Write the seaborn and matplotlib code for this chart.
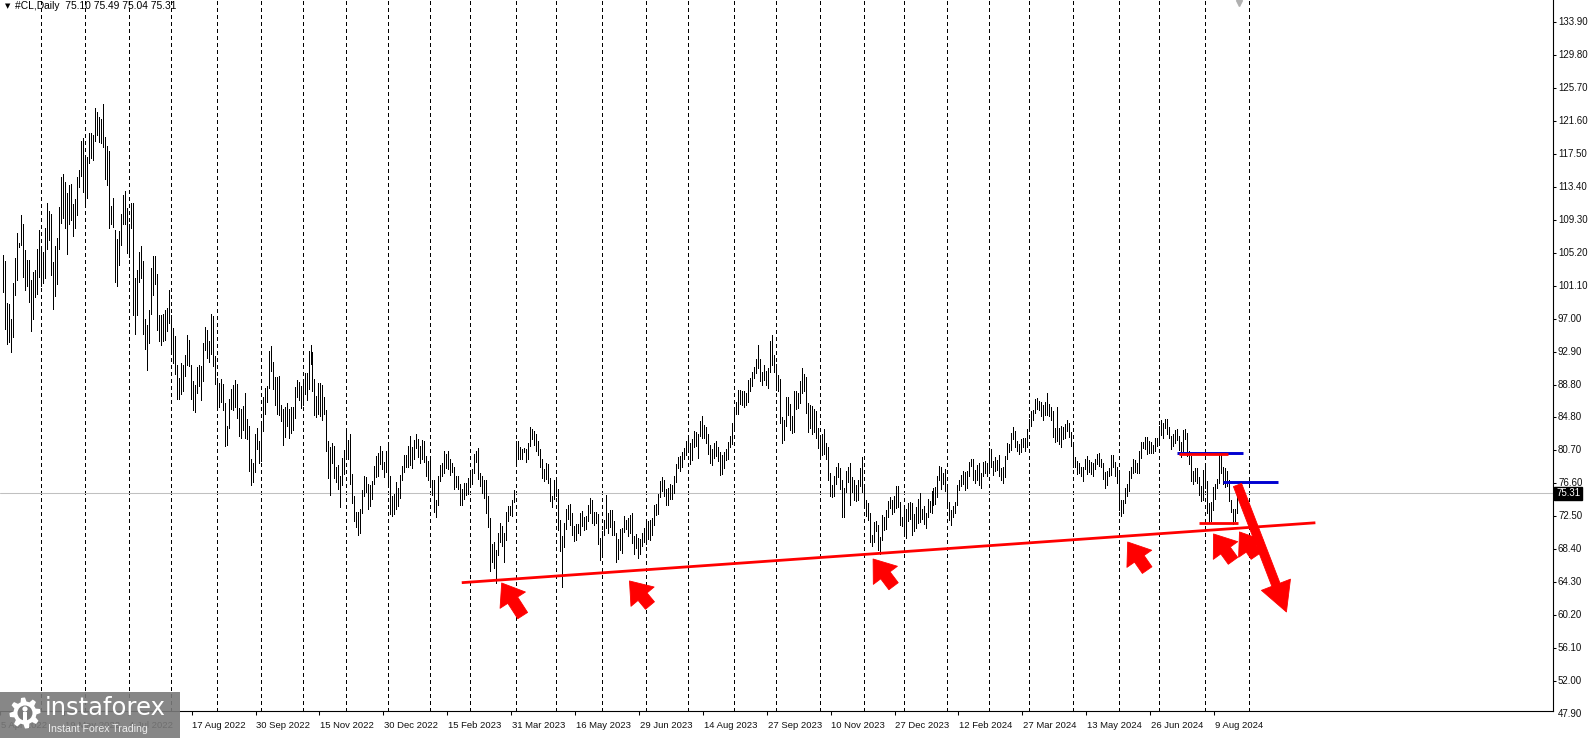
import numpy as np
import pandas as pd
import matplotlib
matplotlib.use("Agg")
import matplotlib.pyplot as plt
import seaborn as sns
from matplotlib.patches import Rectangle, Polygon, Circle
from matplotlib.transforms import IdentityTransform

# ------------------------------------------------------------------ data
first_session = "2022-04-05"
closed_sessions = ["2022-12-26", "2023-01-02", "2023-12-25", "2024-01-01", "2024-03-29"]

high_2022 = [
    104.9, 104.1, 98.9, 98.8, 97.0, 101.4, 104.5, 107.6, 106.4, 109.9, 108.8, 105.5, 104.3, 104.3, 101.8, 102.8, 103.0, 105.7, 108.0,
    105.6, 105.3, 108.3, 111.4, 110.3, 110.0, 104.0, 106.0, 107.0, 110.9, 114.6, 115.0, 114.0, 112.6, 113.6, 113.7, 111.2, 111.8, 114.6, 115.4, 119.0, 119.4,
    117.0, 117.1, 120.0, 120.0, 119.8, 123.2, 122.7, 122.0, 121.8, 123.7, 119.6, 118.4, 117.8, 111.0, 112.0, 108.0, 106.9, 107.9, 110.0, 112.3, 112.8, 110.7,
    108.8, 111.3, 111.4, 102.0, 103.0, 105.3, 106.0, 104.2, 97.0, 96.2, 98.1, 103.3, 104.8, 104.8, 102.5, 97.4, 97.4, 97.6, 98.0, 98.3, 100.5,
    97.5, 95.8, 94.8, 91.2, 89.6, 91.5, 91.2, 92.5, 94.9, 94.3, 91.2, 89.3, 88.8, 91.0, 91.2, 91.1, 94.0, 95.9, 95.6, 94.2, 97.6, 97.3, 92.3,
    89.6, 89.0, 89.5, 88.9, 86.5, 83.7, 87.0, 88.2, 88.7, 89.4, 88.9, 85.9, 85.8, 86.1, 87.8, 84.5, 83.6, 79.5, 79.1, 82.6, 83.4, 81.8,
    84.0, 87.2, 88.4, 88.6, 93.0, 93.6, 91.6, 89.8, 89.7, 89.9, 86.3, 85.8, 86.0, 86.5, 85.8, 86.0, 86.0, 88.5, 89.4, 89.1, 88.6,
    89.0, 90.2, 90.2, 93.0, 93.7, 92.8, 89.5, 87.4, 89.0, 89.0, 88.7, 87.2, 85.7, 81.8, 81.0, 81.6, 81.2, 78.6, 78.8, 77.4, 79.7, 80.7,
    83.3, 81.9, 82.6, 77.7, 75.0, 73.0, 73.0, 73.3, 75.7, 77.4, 77.3, 76.5, 76.3, 76.8, 78.7, 79.9, 80.3, 81.2, 80.6, 79.2, 80.5,
]
low_2022 = [
    100.3, 95.7, 93.8, 94.1, 92.9, 94.7, 99.9, 101.8, 105.9, 106.1, 102.2, 100.5, 101.0, 99.1, 95.4, 97.0, 99.7, 100.1, 102.2,
    101.0, 101.4, 102.0, 105.6, 106.8, 102.4, 98.2, 99.8, 101.3, 105.6, 108.9, 109.5, 108.3, 105.0, 108.8, 109.2, 107.2, 108.3, 109.9, 113.3, 114.7, 112.7,
    111.2, 112.0, 116.3, 117.0, 116.7, 119.0, 119.8, 118.9, 118.8, 118.3, 114.3, 113.6, 108.3, 108.8, 108.4, 101.5, 101.1, 103.6, 106.1, 108.7, 108.7, 105.2,
    104.6, 108.2, 97.4, 95.1, 97.5, 101.6, 102.0, 95.1, 93.2, 90.6, 94.0, 97.6, 99.9, 101.3, 95.6, 94.2, 93.7, 94.2, 94.3, 95.5, 96.5,
    92.8, 91.5, 90.1, 87.0, 87.0, 87.6, 88.0, 89.9, 91.2, 91.1, 87.0, 85.7, 85.4, 87.7, 88.6, 86.9, 89.3, 93.1, 92.1, 91.6, 92.6, 91.1, 88.9,
    86.1, 86.0, 86.6, 85.7, 81.2, 81.3, 83.4, 85.8, 85.7, 86.0, 84.6, 82.4, 82.1, 83.2, 82.1, 82.0, 78.0, 76.3, 76.7, 77.9, 80.8, 79.1,
    79.3, 83.0, 85.2, 86.6, 88.4, 90.5, 88.2, 86.3, 85.2, 85.0, 84.3, 81.3, 82.3, 83.6, 82.1, 82.8, 83.2, 84.6, 87.3, 86.9, 85.9,
    86.3, 87.6, 86.9, 88.3, 91.4, 88.0, 85.0, 84.8, 85.1, 84.9, 84.4, 85.1, 80.6, 77.2, 75.1, 79.0, 77.2, 76.7, 75.8, 73.6, 76.3, 77.7,
    80.0, 79.6, 76.4, 74.1, 71.8, 71.1, 70.1, 70.3, 72.8, 74.9, 75.4, 73.3, 73.7, 74.6, 76.4, 77.3, 77.5, 78.9, 78.3, 77.3, 77.9,
]
high_2023 = [
    81.5, 77.4, 74.9, 75.2, 76.7, 75.9, 77.6, 78.7, 80.0, 80.1, 81.2, 82.4, 81.0, 81.9, 82.6, 82.0, 81.2, 81.9, 81.8, 79.9, 79.3,
    79.5, 77.0, 76.9, 74.4, 77.4, 78.8, 79.1, 80.6, 80.2, 80.6, 79.6, 79.1, 78.5, 77.4, 77.5, 76.4, 75.8, 76.6, 76.6, 77.2,
    78.2, 78.3, 80.2, 80.5, 80.9, 77.8, 77.4, 77.0, 77.0, 75.0, 72.2, 69.0, 69.3, 68.2, 70.3, 71.6, 71.2, 70.3, 73.0, 73.7, 73.7, 74.5, 75.7,
    81.8, 81.8, 81.1, 80.8, 80.9, 80.8, 81.6, 83.5, 83.3, 83.0, 82.6, 81.8, 80.8, 79.6, 78.3, 79.1, 78.9, 77.2, 75.0, 77.0,
    76.9, 75.8, 72.0, 70.0, 71.6, 73.3, 73.8, 74.0, 72.8, 71.2, 71.5, 71.5, 72.9, 73.1, 72.4, 72.5, 73.8, 74.7, 74.4, 73.0, 73.0, 72.7, 69.8,
    70.6, 72.0, 75.1, 72.9, 73.2, 73.2, 71.8, 70.3, 69.6, 70.9, 71.0, 72.5, 72.0, 72.2, 72.6, 72.8, 70.0, 70.2, 69.7, 69.6, 70.3, 71.0,
    72.0, 71.8, 72.0, 72.2, 73.9, 74.0, 75.2, 76.8, 77.3, 77.0, 75.8, 76.0, 76.4, 76.3, 77.5, 78.9, 79.8, 79.9, 80.4, 80.9, 81.8,
    82.0, 81.6, 82.0, 83.0, 82.9, 82.6, 84.3, 84.9, 83.8, 83.5, 82.7, 81.3, 80.8, 81.6, 81.8, 81.0, 80.4, 80.0, 80.4, 80.8, 81.7, 82.4, 84.0,
    86.0, 86.6, 88.1, 88.1, 88.0, 88.0, 87.7, 89.4, 89.6, 90.4, 91.0, 92.0, 93.7, 92.0, 90.3, 91.2, 90.5, 90.8, 94.2, 95.0, 92.5,
    91.3, 90.0, 89.5, 84.8, 84.4, 87.2, 87.2, 86.4, 84.9, 88.0, 88.0, 87.8, 89.3, 90.8, 90.1, 89.8, 86.5, 86.3, 86.1, 85.8, 85.5, 83.4,
    82.4, 82.6, 83.3, 81.5, 81.1, 77.8, 76.3, 77.4, 78.6, 79.0, 78.4, 77.0, 76.0, 78.0, 78.5, 79.1, 77.3, 77.0, 76.3, 76.9, 78.4, 79.8,
    76.2, 74.4, 74.1, 72.9, 70.1, 71.7, 71.9, 71.4, 69.9, 72.6, 72.3, 73.2, 74.3, 74.8, 74.4, 74.9, 76.2, 76.2, 74.2, 72.3,
]
low_2023 = [
    76.6, 72.7, 72.5, 72.7, 73.4, 73.7, 74.7, 76.9, 77.9, 78.6, 78.5, 78.8, 78.4, 79.5, 80.9, 79.8, 79.1, 79.6, 79.2, 77.5, 77.0,
    76.4, 75.1, 73.0, 72.3, 73.9, 76.8, 77.4, 77.8, 78.4, 78.3, 77.6, 77.9, 75.8, 76.1, 75.8, 73.8, 73.8, 74.6, 75.1, 75.2,
    76.3, 76.4, 77.8, 79.2, 77.1, 76.2, 75.3, 74.7, 72.8, 71.1, 65.7, 66.8, 66.0, 64.1, 67.6, 69.2, 68.8, 66.8, 69.5, 71.9, 72.6, 72.5, 74.2,
    79.0, 79.6, 79.5, 79.5, 80.4, 79.2, 79.6, 81.2, 82.0, 81.3, 80.5, 80.1, 78.5, 77.2, 76.8, 77.1, 76.6, 74.3, 73.6, 74.6,
    75.0, 70.7, 68.1, 63.6, 68.6, 70.8, 72.1, 71.4, 70.1, 69.4, 69.5, 70.3, 70.1, 71.2, 70.7, 70.8, 71.8, 72.8, 71.6, 71.3, 71.6, 69.0, 67.0,
    67.4, 70.1, 71.0, 70.4, 71.1, 70.1, 70.1, 66.8, 67.1, 68.3, 67.9, 70.5, 70.8, 70.0, 70.3, 69.1, 67.8, 68.5, 67.2, 67.7, 68.8, 69.2,
    69.0, 69.6, 69.5, 70.1, 71.3, 72.6, 72.7, 74.8, 75.6, 74.9, 73.8, 73.9, 74.6, 74.6, 75.3, 76.7, 78.4, 78.1, 78.5, 79.6, 80.0,
    80.8, 78.9, 79.4, 81.0, 81.2, 79.7, 82.4, 82.2, 82.1, 81.6, 80.2, 79.1, 78.8, 79.7, 79.9, 79.3, 77.6, 77.7, 78.4, 79.4, 79.6, 81.0, 81.4,
    83.5, 85.2, 85.1, 86.4, 86.2, 86.0, 86.3, 86.6, 88.0, 88.6, 89.6, 90.2, 90.8, 89.2, 88.7, 89.4, 88.8, 88.4, 90.4, 91.2, 90.3,
    88.1, 88.0, 84.0, 81.5, 81.9, 83.6, 85.0, 83.2, 82.8, 82.9, 85.8, 85.9, 86.5, 87.8, 88.0, 85.3, 82.9, 83.4, 82.6, 82.9, 82.2, 80.9,
    79.8, 80.1, 80.2, 79.5, 77.0, 74.9, 74.8, 75.0, 76.4, 77.3, 75.8, 72.4, 72.4, 75.5, 76.7, 73.8, 75.4, 74.4, 74.3, 74.4, 76.2, 75.4,
    73.8, 72.5, 72.0, 69.2, 68.8, 69.2, 70.6, 68.3, 67.7, 69.5, 70.7, 70.9, 72.3, 73.5, 72.7, 73.0, 73.5, 73.6, 71.4, 71.2,
]
high_2024 = [
    73.9, 73.3, 74.1, 74.2, 74.1, 72.7, 73.6, 74.6, 75.3, 73.4, 73.7, 72.9, 74.6, 74.3, 75.6, 75.9, 76.1, 77.4, 78.7, 78.6, 77.8, 78.3,
    76.2, 74.2, 73.2, 73.7, 74.2, 76.3, 76.9, 77.6, 78.0, 77.9, 78.0, 79.2, 79.5, 79.6, 78.2, 78.8, 79.1, 77.8, 79.2, 79.3, 79.0,
    80.9, 80.8, 79.3, 79.8, 79.4, 80.0, 78.4, 78.6, 79.9, 81.6, 81.4, 82.8, 83.5, 83.0, 81.8, 81.4, 82.0, 82.1, 82.1, 83.3,
    84.5, 85.5, 85.6, 87.0, 87.1, 86.8, 86.6, 86.3, 86.6, 87.7, 86.4, 86.0, 85.5, 83.4, 86.0, 83.4, 83.6, 83.5, 83.9, 84.4, 84.0, 82.9,
    81.3, 79.8, 79.3, 79.0, 78.6, 78.6, 79.5, 79.9, 79.4, 79.2, 79.1, 79.6, 80.2, 80.3, 79.5, 79.0, 77.9, 78.0, 78.4, 80.1, 80.0, 79.2, 78.6,
    77.9, 74.4, 74.5, 75.9, 76.5, 78.0, 78.6, 79.5, 79.4, 79.1, 80.6, 81.7, 81.7, 82.3, 82.3, 81.8, 81.7, 81.3, 82.1, 82.1,
    83.6, 84.4, 84.0, 84.5, 84.5, 83.5, 82.4, 82.6, 83.1, 83.3, 82.4, 81.7, 83.2, 83.3, 82.8, 80.5, 79.9, 78.1, 78.4, 78.4, 77.3, 76.2, 78.2,
    78.8, 76.8, 74.1, 74.2, 76.1, 76.4, 77.1, 80.2, 80.3, 78.6, 78.4, 78.0, 76.9, 74.5, 73.4, 73.3, 75.0, 75.49,
]
low_2024 = [
    70.1, 69.8, 71.9, 72.1, 70.1, 70.6, 71.0, 71.6, 71.7, 72.1, 71.5, 71.0, 72.4, 73.0, 72.9, 73.9, 74.0, 74.8, 76.9, 75.8, 76.4, 75.6,
    73.5, 72.0, 71.4, 72.4, 72.8, 73.8, 75.7, 76.2, 76.5, 75.7, 76.0, 77.5, 78.7, 76.9, 76.6, 76.9, 76.3, 75.9, 77.4, 77.8, 77.5,
    78.2, 78.6, 77.6, 78.1, 78.2, 77.5, 77.0, 76.6, 77.3, 79.6, 80.4, 80.7, 82.0, 81.0, 80.6, 80.2, 80.4, 81.0, 80.6, 81.1,
    83.0, 83.6, 84.4, 85.3, 85.8, 85.6, 84.9, 84.4, 85.0, 85.0, 84.9, 84.4, 82.3, 81.7, 81.8, 81.4, 81.1, 82.0, 82.1, 83.0, 82.3, 81.2,
    78.6, 78.5, 77.7, 77.8, 77.4, 76.8, 78.3, 77.7, 77.9, 77.7, 77.4, 78.3, 78.9, 78.7, 78.5, 77.1, 76.0, 76.3, 77.4, 77.6, 78.6, 77.4, 76.6,
    73.2, 72.5, 72.9, 74.1, 74.9, 75.6, 77.2, 77.8, 77.9, 77.8, 77.8, 79.7, 80.9, 80.8, 80.2, 80.3, 80.3, 80.3, 80.5, 81.2,
    81.3, 82.5, 82.1, 83.4, 82.7, 82.1, 80.8, 81.2, 81.5, 81.9, 80.7, 79.8, 80.4, 82.0, 79.9, 78.9, 76.8, 76.4, 76.8, 76.6, 75.1, 74.3, 74.5,
    75.9, 72.9, 71.7, 71.9, 73.2, 74.6, 75.9, 76.6, 77.8, 76.5, 76.1, 76.2, 74.3, 73.0, 71.5, 71.9, 72.9, 75.04,
]

x_tick_labels = ["5 Apr 2022", "19 May 2022", "4 Jul 2022", "17 Aug 2022", "30 Sep 2022",
                 "15 Nov 2022", "30 Dec 2022", "15 Feb 2023", "31 Mar 2023", "16 May 2023",
                 "29 Jun 2023", "14 Aug 2023", "27 Sep 2023", "10 Nov 2023", "27 Dec 2023",
                 "12 Feb 2024", "27 Mar 2024", "13 May 2024", "26 Jun 2024", "9 Aug 2024"]
price_tick_labels = ["133.90", "129.80", "125.70", "121.60", "117.50", "113.40", "109.30",
                     "105.20", "101.10", "97.00", "92.90", "88.80", "84.80", "80.70", "76.60",
                     "72.50", "68.40", "64.30", "60.20", "56.10", "52.00", "47.90"]
last_price = 75.31
header_quote = "#CL,Daily  75.10 75.49 75.04 75.31"

# analyst drawings, in (bar index, price)
support_x = [229.75, 657.25]
support_y = [64.19, 71.63]
red_levels = [(588.75, 613.25, 80.14), (598.75, 618.25, 71.64)]
blue_levels = [(587.75, 621.25, 80.30), (610.75, 638.75, 76.73)]
pointer_tips = [(249.75, 64.15), (313.75, 64.40), (435.75, 67.13), (563.25, 69.24), (606.25, 70.24), (619.25, 70.49)]
pointer_tails = [(260.25, 60.10), (324.0, 61.35), (446.0, 63.75), (573.0, 65.75), (616.0, 66.90), (627.5, 67.50)]
forecast_from = (618.25, 76.32)
forecast_to = (642.75, 60.55)

# ------------------------------------------------------------------ setup
sns.set_theme(style="white")
plt.rcParams["font.family"] = ["Liberation Sans", "DejaVu Sans"]

W, H = 1588, 738
AX_BOTTOM, AX_RIGHT = 711, 1553
fig = plt.figure(figsize=(W / 100, H / 100), dpi=100)
fig.patch.set_facecolor("white")
ax = fig.add_axes([0, (H - AX_BOTTOM) / H, AX_RIGHT / W, AX_BOTTOM / H])
ax.set_facecolor("white")

sessions = pd.bdate_range(first_session, "2024-09-30")
sessions = sessions[~sessions.isin(pd.to_datetime(closed_sessions))]

highs = np.array(high_2022 + high_2023 + high_2024)
lows = np.array(low_2022 + low_2023 + low_2024)
assert len(highs) == len(lows), (len(highs), len(lows))
n = len(highs)
idx = np.arange(n)

# grid at the first session of every month
month_start = [i for i in range(1, len(sessions)) if sessions[i].month != sessions[i - 1].month]

YLO, YHI = 48.248, 136.571
ax.set_xlim(-0.25, 776.25)
ax.set_ylim(YLO, YHI)

ax.vlines(month_start, YLO, YHI, colors="black", linewidth=0.6,
          linestyles=(0, (3.6, 3.6)), antialiased=False, zorder=1)
ax.axhline(last_price, color="#c0c0c0", lw=0.75, zorder=1.5)

# bars (high-low lines) drawn with seaborn, one unit per session
bars = pd.DataFrame({
    "bar": np.repeat(idx, 2),
    "price": np.column_stack([lows, highs]).ravel(),
})
sns.lineplot(data=bars, x="bar", y="price", units="bar", estimator=None, sort=False,
             color="black", lw=0.5, antialiased=False, solid_capstyle="butt",
             legend=False, ax=ax, zorder=3)

# analyst drawings
for x0, x1, lvl in blue_levels:
    ax.plot([x0, x1], [lvl, lvl], color="#0000d0", lw=2.1, solid_capstyle="butt", zorder=4)
for x0, x1, lvl in red_levels:
    ax.plot([x0, x1], [lvl, lvl], color="#ff0000", lw=2.0, solid_capstyle="butt", zorder=5)
ax.plot(support_x, support_y, color="#ff0000", lw=2.0, solid_capstyle="butt", zorder=5)

for tip, tail in zip(pointer_tips, pointer_tails):
    ax.annotate("", xy=tip, xytext=tail, annotation_clip=False, zorder=6,
                arrowprops=dict(arrowstyle="simple,head_length=1.05,head_width=1.55,tail_width=0.6",
                                color="#ff0000", lw=0.6, shrinkA=0, shrinkB=0, mutation_scale=14,
                                capstyle="round"))
ax.annotate("", xy=forecast_to, xytext=forecast_from, annotation_clip=False, zorder=6,
            arrowprops=dict(arrowstyle="simple,head_length=1.5,head_width=1.6,tail_width=0.45",
                            color="#ff0000", lw=0.6, shrinkA=0, shrinkB=0, mutation_scale=14))

# axes frame
ax.set_xlabel("")
ax.set_ylabel("")
for s in ["left", "top"]:
    ax.spines[s].set_visible(False)
for s in ["right", "bottom"]:
    ax.spines[s].set_visible(True)
    ax.spines[s].set_color("black")
    ax.spines[s].set_linewidth(0.8)

# x axis labels
label_dates = pd.to_datetime(x_tick_labels, format="%d %b %Y")
label_idx = [int(sessions.get_loc(d)) for d in label_dates]
ax.set_xticks([i - 1.5 for i in label_idx])
ax.set_xticklabels([])
ax.tick_params(axis="x", direction="out", length=3.0, width=0.75, color="black", bottom=True)
for i, lab in zip(label_idx, x_tick_labels):
    ax.text(i - 1.1, -0.0205, lab, transform=ax.get_xaxis_transform(), ha="left", va="center",
            fontsize=6.8, color="#101010", clip_on=False)

# y axis labels on the right
price_vals = [float(v) for v in price_tick_labels]
ax.yaxis.set_ticks_position("right")
ax.set_yticks([v for v in price_vals if v > YLO])
ax.set_yticklabels([])
ax.tick_params(axis="y", direction="out", length=2.3, width=0.75, color="black", right=True, left=False)
for v, lab in zip(price_vals, price_tick_labels):
    ax.text(1.0 + 5 / AX_RIGHT, v, lab, transform=ax.get_yaxis_transform(), ha="left", va="center",
            fontsize=7.0, color="#101010", clip_on=False)
ax.text(1.0 + 3 / AX_RIGHT, last_price, f"{last_price:.2f}", transform=ax.get_yaxis_transform(),
        ha="left", va="center", fontsize=7.0, color="white", clip_on=False, zorder=10,
        bbox=dict(boxstyle="square,pad=0.16", fc="black", ec="black"))
ax.grid(False)

# chart shift marker at the top
ax.plot([618.75], [136.2], marker="v", markersize=4.5, color="#b0b0b0", clip_on=False, zorder=7)

# header
fig.text(5 / W, 1 - 6 / H, "\u25BC", fontsize=5, family=["DejaVu Sans"], color="black", ha="left", va="center")
fig.text(15 / W, 1 - 6 / H, header_quote, fontsize=7.4, color="black", ha="left", va="center")

# watermark
fig.add_artist(Rectangle((0, 0), 180 / W, 46 / H, transform=fig.transFigure,
                         facecolor="#7a7a7a", edgecolor="none", alpha=0.9, zorder=20))
fig.text(45 / W, 1 - 708 / H, "instaforex", fontsize=17.5, family=["DejaVu Sans"], color="white",
         ha="left", va="center", zorder=21)
fig.text(48 / W, 1 - 729 / H, "Instant Forex Trading", fontsize=7.6, color="#eeeeee",
         ha="left", va="center", zorder=21)
# gear logo (display pixels, origin bottom-left)
gcx, gcy = 25, H - 713
ang = np.linspace(0, 2 * np.pi, 49)[:-1]
rad = np.where((np.arange(48) // 3) % 2 == 0, 15.5, 11.5)
gear = Polygon(np.column_stack([gcx + rad * np.cos(ang), gcy + rad * np.sin(ang)]),
               closed=True, transform=IdentityTransform(), facecolor="white", edgecolor="none", zorder=21)
fig.add_artist(gear)
fig.add_artist(Circle((gcx, gcy), 7.5, transform=IdentityTransform(), facecolor="#7a7a7a",
                      edgecolor="none", zorder=22))
fig.add_artist(Circle((gcx, gcy + 4), 2.6, transform=IdentityTransform(), facecolor="white",
                      edgecolor="none", zorder=23))
fig.add_artist(Rectangle((gcx - 2.2, gcy - 9), 4.4, 10, transform=IdentityTransform(),
                         facecolor="white", edgecolor="none", zorder=23))

fig.savefig("out.png", dpi=100, facecolor="white")
